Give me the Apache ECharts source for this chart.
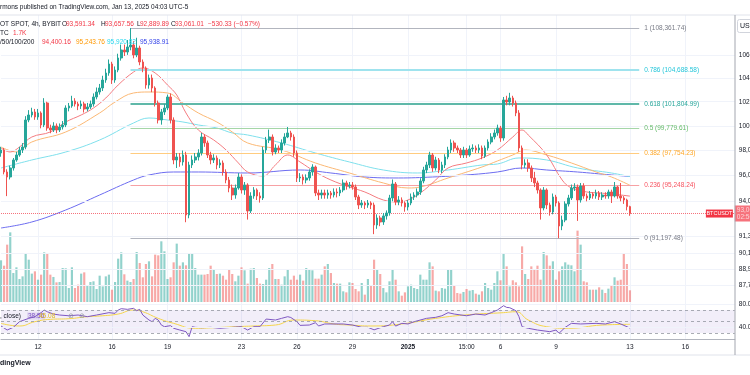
<!DOCTYPE html>
<html>
<head>
<meta charset="utf-8">
<script src="https://cdn.jsdelivr.net/npm/echarts@6/dist/echarts.min.js"></script>
<style>
html, body { margin: 0; padding: 0; background: #fff; }
#main { width: 750px; height: 375px; }
</style>
</head>
<body>
<div id="main"></div>
<script>
// BTCUSDT 4h, Bybit - candles, MA ribbon, fib levels, volume, RSI

var firstOpen = 97800;
var closes = [
  98041,96288,95894,96605,97241,97641,98041,98283,100485,100898,
  101147,100733,101064,100075,101896,99828,99664,99993,99664,99910,
  100075,101479,101646,102063,101813,101646,101813,101396,101563,101813,
  102399,102820,103158,103836,104434,105209,103836,104690,105729,106424,
  106250,106687,106862,105990,106599,105382,104863,103412,104007,103158,
  101896,100485,101147,101479,102399,100485,97241,97481,97082,97641,
  92952,96843,97241,97481,97801,99093,98607,97641,97241,97401,
  96843,97002,96288,95658,95033,94489,95033,95894,94877,95268,
  93257,94412,94877,94412,94256,98041,98849,99093,97881,98203,
  98041,98607,99093,99420,99093,97801,95816,95894,95658,95816,
  96288,96684,94644,94489,94644,94489,94644,94489,94721,94644,
  94877,95424,95190,95268,95112,94334,93717,93870,93717,93870,
  93717,92192,92723,92419,92876,93104,94256,95346,93947,94101,
  93870,93563,93870,94334,94489,94721,95580,96446,96843,97641,
  96605,97241,96446,96843,97481,98041,98607,98203,98041,97641,
  98041,97641,98122,98203,98041,98203,97561,98203,98688,99093,
  99420,99828,99012,102147,101980,102315,101896,101064,98203,96843,
  97002,96605,95816,95424,94877,93487,94877,93717,93180,94334,
  93870,92116,92570,93794,94256,95033,95112,94101,95190,94412,
  94256,94567,94412,94644,94334,94489,94412,94721,94412,95112,
  94412,94256,94101,93591,93061.01
];
var highs = [
  98300,98200,96500,96800,97400,97900,98300,98600,100800,101300,
  101500,101400,101400,101200,102300,102000,100100,100300,100200,100200,
  100400,101700,101900,102500,102300,102000,102100,102000,101900,102100,
  102700,103200,103500,104200,104800,105600,105400,105000,106100,106900,
  106900,107300,108361.74,107200,107500,106800,105600,105000,104300,104300,
  103300,102100,101400,101800,102600,102700,100700,97800,97800,98000,
  97900,97100,97600,97800,98100,99420,99300,98800,97900,97700,
  97600,97300,97200,96500,95900,95300,95300,96200,96100,95500,
  95400,94700,95100,95000,94700,98300,99100,99700,99300,98500,
  98400,98900,99400,99910,99600,99300,98000,96200,96100,96100,
  96500,96900,96800,94900,94900,94900,94900,94800,95000,95000,
  95100,95700,95600,95500,95500,95300,94500,94100,94000,94100,
  94000,93900,93000,92900,93100,93300,94500,95700,95500,94400,
  94300,94000,94100,94600,94700,95000,95800,96700,97100,97900,
  97800,97500,97400,97100,97700,98300,98900,98800,98400,98200,
  98300,98200,98400,98500,98400,98500,98400,98400,98900,99400,
  99700,100100,100000,102400,102500,102750,102500,102100,101300,98400,
  97300,97300,96800,96300,95600,95000,95100,95000,93900,94600,
  94500,94000,92900,94000,94500,95300,95400,95300,95424,95400,
  94600,94800,94700,94900,94800,94700,94700,94900,94900,95500,
  95200,95424,94400,94200,93657.56
];
var lows = [
  97500,96100,94400,95700,96400,97100,97500,97800,98100,100300,
  100700,100500,100500,99800,99900,99600,99400,99500,99400,99500,
  99700,99900,101200,101500,101600,101300,101400,101100,101200,101400,
  101600,102200,102600,102900,103600,104200,103500,103600,104500,105500,
  105900,106000,106400,105700,105800,105100,104500,103100,103100,102800,
  101600,100200,100100,100900,101300,100200,96900,96600,96700,96800,
  92400,92700,96600,97000,97200,97600,98300,97400,96900,97000,
  96500,96600,96000,95400,94700,94100,94200,94900,94600,94500,
  92600,93100,94200,94100,93900,94100,97800,98600,97600,97700,
  97800,97800,98400,99000,98800,97500,95500,95500,95300,95400,
  95600,96000,94400,94100,94200,94200,94200,94200,94300,94300,
  94400,94700,94900,95000,94900,94100,93400,93500,93400,93500,
  93400,91500,91900,92100,92200,92600,92900,94000,93700,93700,
  93600,93200,93300,93700,94100,94300,94500,95400,96200,96600,
  96300,96400,96200,96200,96600,97300,97800,97900,97800,97400,
  97400,97400,97500,97900,97800,97800,97300,97400,98000,98500,
  98900,99200,98700,98800,101700,101700,101600,100800,97900,96500,
  96600,96300,95500,95100,94600,92600,93300,93400,92900,93000,
  93600,91197.48,91800,92400,93600,94100,94800,92500,93900,94200,
  94000,94100,94200,94200,94100,94100,94200,94200,93870,94300,
  94200,94000,93800,93300,92889.89
];
// volume, thousands of BTC
var volumes = [
  6.13,5.34,8.43,10.24,4.26,5.10,3.38,3.77,7.06,6.22,
  4.17,4.51,3.28,4.02,7.30,7.20,4.02,3.68,2.89,2.94,
  5.00,4.95,2.06,5.10,2.06,2.55,4.17,4.36,2.45,2.94,
  3.04,1.91,3.87,2.30,3.77,4.02,1.81,2.94,6.37,7.30,
  4.07,3.14,2.94,3.38,7.35,5.73,3.63,5.59,5.98,3.77,
  6.96,6.86,8.92,7.45,3.38,3.63,5.83,8.58,5.34,5.83,
  5.39,7.20,7.20,5.00,4.02,4.02,4.02,4.12,5.34,4.85,
  4.12,4.17,3.87,3.28,4.75,4.12,3.04,3.87,5.10,4.66,
  2.70,4.90,5.00,3.53,2.70,2.65,3.28,5.00,5.59,3.38,
  3.38,2.55,3.77,4.75,3.28,3.87,3.28,4.02,3.14,5.00,
  4.75,4.66,3.43,3.43,4.02,5.24,5.59,4.26,2.79,2.70,
  2.70,1.57,1.42,2.89,2.79,1.91,1.57,2.79,1.08,3.38,
  2.45,6.22,4.75,4.12,2.06,1.42,3.04,4.75,3.28,1.57,
  0.93,1.42,2.30,2.55,2.06,1.91,4.02,3.28,3.28,5.83,
  5.24,1.67,1.57,2.06,1.96,4.75,4.75,2.45,1.32,1.23,
  1.47,1.91,1.67,1.76,1.23,1.08,1.57,2.79,2.06,1.81,
  2.79,4.51,3.19,7.11,5.24,2.30,3.19,2.89,2.30,8.18,
  4.12,3.38,5.24,4.75,5.34,3.28,7.35,6.86,5.34,5.98,
  3.28,4.51,5.24,5.83,5.49,5.39,4.51,10.49,8.43,3.04,
  2.89,1.81,1.81,1.81,2.16,1.81,1.32,1.96,2.40,3.63,
  3.14,3.28,7.06,5.59,1.72
];

// moving averages: [bar, price]
var ma20 = [[0,98203],[3,97881],[6,98283],[10,99093],[16,99501],[21,100321],[26,100898],[30,101479],[34,102315],[38,103412],[43,104519],[46,104863],[50,104434],[54,103412],[57,102567],[60,101064],[64,99664],[69,98849],[73,98041],[77,97002],[80,96288],[85,95973],[89,96843],[93,97641],[97,97082],[102,96288],[107,95658],[113,95112],[118,94721],[124,94101],[129,93947],[132,94101],[136,94644],[141,95658],[145,96605],[151,97002],[156,97401],[161,98041],[166,99093],[169,99664],[171,99256],[177,97641],[182,95658],[185,95033],[190,94721],[194,94644],[198,94567],[204,94400.16]];
var ma50 = [[0,98283],[5,97881],[10,98688],[21,99501],[32,101064],[37,101980],[43,102736],[48,102820],[54,102736],[59,101896],[64,101064],[70,100321],[75,99501],[80,98607],[91,98041],[102,97002],[113,96209],[124,95424],[132,95033],[136,95112],[145,95816],[156,96684],[161,97161],[166,97641],[170,98041],[177,97641],[185,97002],[193,96288],[198,95894],[204,95243.76]];
var ma100 = [[0,96605],[10,97241],[21,97881],[32,98849],[43,100239],[48,100650],[54,100485],[59,100321],[64,100075],[70,99828],[75,99420],[80,99256],[91,98607],[102,97801],[113,97082],[124,96446],[135,96209],[145,96446],[156,96843],[161,96922],[168,97401],[177,97241],[187,96605],[198,96209],[204,95920.82]];
var ma200 = [[0,91964],[10,92419],[21,93333],[32,94489],[43,95658],[48,96052],[56,96288],[64,96288],[80,96209],[97,96446],[107,96209],[118,95894],[129,95816],[140,95894],[151,96052],[161,96288],[169,96605],[177,96446],[187,96288],[198,96052],[204,95938.91]];

// RSI 14 and its moving average: [bar, value]
var rsi = [[0,42.2],[2,35.2],[4,39.9],[6,49.7],[9,55.5],[11,58.4],[13,65.4],[14,70],[15,67],[17,63],[19,61.3],[22,60],[25,61.3],[28,58.4],[31,61.3],[35,65.4],[37,64.2],[38,70],[39,72.3],[41,71.2],[43,72.9],[44,68.8],[45,71.2],[46,61.3],[48,52.6],[49,49.7],[50,55.5],[51,52.6],[52,43.9],[53,41],[55,42.8],[56,38.2],[58,35.2],[60,32.3],[61,23.6],[62,41],[63,39.9],[65,39.2],[68,39.9],[71,38.2],[75,39.9],[78,41],[80,35.2],[82,41],[84,41],[86,54.3],[89,52.6],[91,55.5],[93,58.4],[94,57],[96,49.7],[97,43.3],[100,43.9],[102,47.9],[103,42.2],[105,45.7],[108,45.7],[111,45.7],[114,43.9],[117,39.9],[119,39.9],[121,35.5],[124,41],[126,43.9],[127,49.7],[128,42],[130,46.8],[132,45.7],[134,49.7],[138,55.5],[141,57.3],[143,60],[145,65.4],[147,63],[151,60],[154,63],[157,61.3],[159,65.4],[161,70],[163,77.5],[164,74.6],[165,74],[167,68.8],[168,58.4],[169,41],[171,38.2],[174,35.2],[178,32.3],[180,35.2],[181,29.5],[183,39.9],[185,46.8],[188,45.7],[193,46.8],[196,45.7],[199,49.7],[201,45.7],[204,38.56]];
var rsiMa = [[0,46.8],[6,42.2],[11,49.7],[16,53.8],[22,54.9],[28,58.4],[32,59.6],[38,63],[43,70],[46,67],[51,55.5],[56,46.8],[63,38.2],[69,39.2],[76,41],[82,42.2],[89,43.9],[95,52.6],[102,51.4],[108,45.7],[113,43.9],[120,42.2],[130,45.7],[141,55.5],[152,62],[163,65.4],[167,67],[171,52.6],[177,41],[184,38.2],[195,43.9],[204,45.08]];

// fib retracement
var fibRatios = ['1', '0.786', '0.618', '0.5', '0.382', '0.236', '0'];
var fibPrices = [108361.74, 104688.58, 101804.99, 99779.61, 97754.23, 95248.24, 91197.48];
var fibFrom = 42, fibTo = 207;

// axis ticks
var priceTicks = [106000, 104000, 102000, 100000, 98000, 96000, 94000, 91350, 90100, 88900, 87750];
var rsiTicks = [80, 40];
var rsiBands = [70, 50, 30];
var timeIdx = [12, 36, 54, 78, 96, 114, 132, 151, 162, 180, 204, 222];
var timeText = ['12', '16', '19', '23', '26', '29', '2025', '15:00', '6', '9', '13', '16'];
var barCount = 239;

var UP = '#26a69a', DOWN = '#ef5350', RED = '#f23645', INK = '#131722';
var FONT = '"Liberation Sans", Arial, sans-serif';
var fibLine = ['#b2b5be', '#9fe3ee', '#5fb8a9', '#a5d6a7', '#ffcc80', '#f7a1a4', '#b2b5be'];
var fibText = ['#787b86', '#26c6da', '#26a69a', '#66bb6a', '#ffa726', '#f7525f', '#787b86'];
var fibWidth = [1, 2, 2, 1, 1, 1, 1];

function fmt(v) {
  return v.toLocaleString('en-US', {minimumFractionDigits: 2, maximumFractionDigits: 2});
}

var cats = [];
for (var i = 0; i < barCount; i++) cats.push(String(i));

var candles = closes.map(function (c, i) {
  var o = i ? closes[i - 1] : firstOpen;
  return [o, c, lows[i], highs[i]];
});
var volData = volumes.map(function (v, i) {
  var o = i ? closes[i - 1] : firstOpen;
  return {value: v, itemStyle: {color: closes[i] >= o ? 'rgba(38,166,154,0.5)' : 'rgba(239,83,80,0.5)'}};
});
var last = closes[closes.length - 1];

var fibData = fibPrices.map(function (p, k) {
  return [
    {coord: [fibFrom, p], lineStyle: {color: fibLine[k], width: fibWidth[k], type: 'solid'},
     label: {color: fibText[k], formatter: fibRatios[k] + ' (' + fmt(p) + ')'}},
    {coord: [fibTo, p]}
  ];
});

function txt(x, y, s, color, extra) {
  var st = {text: s, fill: color, fontSize: 6.5, fontFamily: FONT, verticalAlign: 'middle', align: 'left'};
  for (var k in extra) st[k] = extra[k];
  return {type: 'text', x: x, y: y, silent: true, z: 100, style: st};
}
function hline(x1, x2, y, color) {
  return {type: 'line', silent: true, z: 90, shape: {x1: x1, y1: y, x2: x2, y2: y}, style: {stroke: color, lineWidth: 1}};
}

var splitInterval = function (idx) { return timeIdx.indexOf(idx) >= 0; };

var option = {
  animation: false,
  textStyle: {fontFamily: FONT},
  grid: [
    {left: 1, top: 15, width: 733.8, height: 287},
    {left: 1, top: 222, width: 733.8, height: 80},
    {left: 1, top: 301.4, width: 733.8, height: 37.35}
  ],
  xAxis: [
    {type: 'category', gridIndex: 0, data: cats, boundaryGap: false,
     axisLine: {show: false}, axisTick: {show: false}, axisLabel: {show: false},
     splitLine: {show: true, interval: splitInterval, lineStyle: {color: '#f0f3fa'}}},
    {type: 'category', gridIndex: 1, data: cats, boundaryGap: false, show: false},
    {type: 'category', gridIndex: 2, data: cats, boundaryGap: false,
     axisLine: {show: true, lineStyle: {color: '#b2b5be'}}, axisTick: {show: false},
     splitLine: {show: true, interval: splitInterval, lineStyle: {color: '#f0f3fa'}},
     axisLabel: {show: true, interval: splitInterval, margin: 5, fontSize: 6.5, color: INK,
       formatter: function (v, idx) {
         var k = timeIdx.indexOf(idx);
         if (k < 0) return '';
         return timeText[k] === '2025' ? '{b|2025}' : timeText[k];
       },
       rich: {b: {fontWeight: 'bold', fontSize: 6.5, color: INK}}}}
  ],
  yAxis: [
    {type: 'log', logBase: 10, gridIndex: 0, min: 86546, max: 109524, show: false},
    {type: 'value', gridIndex: 1, min: 0, max: 11.76, show: false},
    {type: 'value', gridIndex: 2, min: 20, max: 85, show: false}
  ],
  series: [
    {
      name: 'grid', type: 'line', xAxisIndex: 0, yAxisIndex: 0, data: [], z: 1, silent: true,
      markLine: {
        silent: true, symbol: ['none', 'none'], animation: false,
        lineStyle: {color: '#f0f3fa', width: 1, type: 'solid'},
        label: {position: 'end', distance: 4, fontSize: 6.5, color: INK,
          formatter: function (p) { return fmt(p.value); }},
        data: priceTicks.map(function (v) { return {yAxis: v}; })
      }
    },
    {
      name: 'vol', type: 'bar', xAxisIndex: 1, yAxisIndex: 1, data: volData, barWidth: '70%', z: 2, silent: true
    },
    {
      name: 'fib', type: 'line', xAxisIndex: 0, yAxisIndex: 0, data: [], z: 3, silent: true,
      markLine: {
        silent: true, symbol: ['none', 'none'], animation: false,
        label: {position: 'end', distance: 5, fontSize: 6.5},
        data: fibData
      }
    },
    {name: 'MA200', type: 'line', xAxisIndex: 0, yAxisIndex: 0, data: ma200, smooth: 0.4, showSymbol: false, z: 4,
     lineStyle: {color: '#6c6cf0', width: 1}},
    {name: 'MA100', type: 'line', xAxisIndex: 0, yAxisIndex: 0, data: ma100, smooth: 0.4, showSymbol: false, z: 4,
     lineStyle: {color: '#7fe0ec', width: 1}},
    {name: 'MA50', type: 'line', xAxisIndex: 0, yAxisIndex: 0, data: ma50, smooth: 0.4, showSymbol: false, z: 4,
     lineStyle: {color: '#fbb874', width: 1}},
    {name: 'MA20', type: 'line', xAxisIndex: 0, yAxisIndex: 0, data: ma20, smooth: 0.4, showSymbol: false, z: 4,
     lineStyle: {color: '#f47c80', width: 1}},
    {
      name: 'BTCUSDT', type: 'candlestick', xAxisIndex: 0, yAxisIndex: 0, data: candles, barWidth: '68%', z: 5,
      itemStyle: {color: UP, color0: DOWN, borderColor: UP, borderColor0: DOWN, borderWidth: 1},
      markLine: {
        silent: true, symbol: ['none', 'none'], animation: false,
        data: [{yAxis: last}],
        lineStyle: {color: RED, type: 'dotted', width: 1, opacity: 0.7},
        label: {position: 'end', distance: 0, fontSize: 6.5, color: '#fff', lineHeight: 7,
          backgroundColor: RED, padding: [1, 2, 1, 2],
          formatter: fmt(last) + '\n02:56:57'}
      },
      markPoint: {
        silent: true, animation: false,
        data: [{coord: [233, last], symbol: 'rect', symbolSize: [27, 8],
          itemStyle: {color: RED},
          label: {show: true, position: 'inside', formatter: 'BTCUSDT', color: '#fff', fontSize: 5.5}}]
      }
    },
    {
      name: 'rsiGrid', type: 'line', xAxisIndex: 2, yAxisIndex: 2, data: [], z: 1, silent: true,
      markArea: {silent: true, itemStyle: {color: 'rgba(126,87,194,0.1)'}, data: [[{yAxis: 70}, {yAxis: 30}]]},
      markLine: {
        silent: true, symbol: ['none', 'none'], animation: false,
        data: rsiTicks.map(function (v) {
          return {yAxis: v, lineStyle: {color: '#f0f3fa', width: 1, type: 'solid'},
            label: {show: true, position: 'end', distance: 4, fontSize: 6.5, color: INK,
              formatter: function (p) { return p.value.toFixed(2); }}};
        }).concat(rsiBands.map(function (v) {
          return {yAxis: v, lineStyle: {color: '#9598a1', width: 1, type: [3, 3], opacity: 0.8}, label: {show: false}};
        }))
      }
    },
    {name: 'RSI', type: 'line', xAxisIndex: 2, yAxisIndex: 2, data: rsi, showSymbol: false, z: 3,
     lineStyle: {color: '#7e57c2', width: 1}},
    {name: 'RSI MA', type: 'line', xAxisIndex: 2, yAxisIndex: 2, data: rsiMa, smooth: 0.5, showSymbol: false, z: 2,
     lineStyle: {color: '#f5d54a', width: 1}}
  ],
  graphic: [
    hline(0, 750, 15, '#e0e3eb'),
    hline(0, 750, 355, '#e0e3eb'),
    {type: 'line', silent: true, z: 90, shape: {x1: 735, y1: 15, x2: 735, y2: 355}, style: {stroke: '#a3a6af', lineWidth: 1}},
    {type: 'rect', silent: true, z: 95, shape: {x: 737.5, y: 19.5, width: 20, height: 13, r: 2},
     style: {fill: '#fff', stroke: '#d1d4dc', lineWidth: 1}},
    txt(740, 26, 'USDT', INK, {fontSize: 7}),
    txt(0, 7.5, 'rmons published on TradingView.com, Jan 13, 2025 04:03 UTC-5', INK),
    txt(0, 24, 'OT SPOT, 4h, BYBIT', INK),
    txt(62, 24, 'O', INK), txt(66, 24, '93,591.34', RED),
    txt(101, 24, 'H', INK), txt(105, 24, '93,657.56', RED),
    txt(137, 24, 'L', INK), txt(140, 24, '92,889.89', RED),
    txt(171, 24, 'C', INK), txt(175, 24, '93,061.01', RED),
    txt(208, 24, '\u2212530.33 (\u22120.57%)', RED),
    txt(0, 33, 'TC', INK), txt(13, 33, '1.7K', RED),
    txt(0, 42, '/50/100/200', INK),
    txt(42, 42, '94,400.16', '#f23645'),
    txt(76, 42, '95,243.76', '#ff9800'),
    txt(107, 42, '95,920.82', '#26d7ee'),
    txt(140, 42, '95,938.91', '#2f3fe8'),
    txt(0, 316, ', close)', INK),
    txt(27, 316, '38.56', '#7e57c2', {backgroundColor: 'rgba(126,87,194,0.15)', padding: [0, 1]}),
    txt(39, 316, '45.08', '#e0b820'),
    txt(68, 316, '\u2298', '#9598a1', {fontSize: 7}),
    txt(79, 316, '\u2298', '#9598a1', {fontSize: 7}),
    txt(-10.5, 363, 'TradingView', INK, {fontSize: 7, fontWeight: 'bold'})
  ]
};

var chart = echarts.init(document.getElementById('main'));
chart.setOption(option);
window.onresize = function () { chart.resize(); };
</script>
</body>
</html>
